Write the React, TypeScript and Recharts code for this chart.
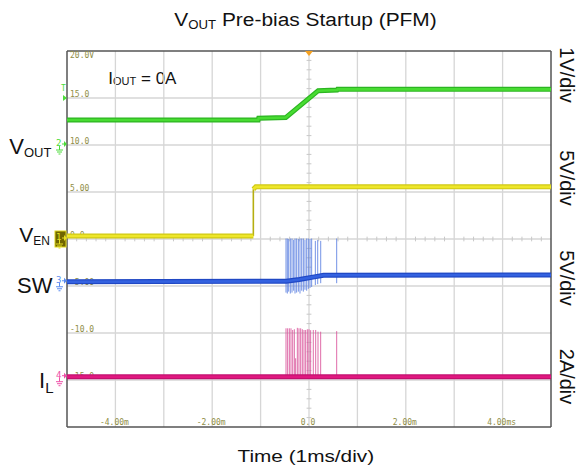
import React from 'react';
import { LineChart, Line, XAxis, YAxis, ReferenceLine, ReferenceDot, Customized } from 'recharts';

// ---------- data (scope units: time in ms, level in screen volts at 5V/div) ----------
const voutTime = [-5, -1.05, -1.04, -0.48, 0.19, 0.58, 0.59, 5];
const voutLevel = [12.66, 12.66, 12.84, 12.92, 15.78, 15.85, 15.92, 15.92];

const venLowTime = [-5, -1.15];
const venLowLevel = [0.32, 0.32];
const venHighTime = [-1.15, -1.1, 5];
const venHighLevel = [5.3, 5.55, 5.55];

const swTime = [-5, -0.47, -0.2, 0.14, 0.3, 5];
const swLevel = [-4.55, -4.5, -4.3, -4.0, -3.85, -3.83];

const swSpikeTime = [-0.475, -0.448, -0.42, -0.386, -0.351, -0.317, -0.289, -0.255, -0.22, -0.186, -0.151, -0.117, -0.083, -0.048, -0.014, 0.021, 0.055, 0.131, 0.18, 0.242, 0.572];
const swSpikeHigh = [0.05, 0.05, 0.0, 0.05, 0.05, -0.1, 0.05, 0.05, 0.0, 0.05, 0.05, 0.05, -0.1, 0.05, 0.05, 0.0, 0.05, -0.2, -0.1, -0.2, 0.05];
const swSpikeLow = [-5.7, -5.8, -5.6, -5.8, -5.7, -5.5, -5.8, -5.7, -5.6, -5.8, -5.5, -5.6, -5.4, -5.5, -5.3, -5.2, -5.1, -4.9, -4.8, -4.7, -4.7];

const ilTime = [-5, 5];
const ilLevel = [-14.65, -14.65];
const ilSpikeTime = [-0.475, -0.441, -0.406, -0.372, -0.337, -0.303, -0.276, -0.241, -0.207, -0.172, -0.138, -0.103, -0.069, -0.034, 0.0, 0.034, 0.089, 0.138, 0.186, 0.241, 0.572];
const ilSpikeHigh = [-9.5, -9.5, -9.5, -9.5, -9.68, -9.6, -12.69, -9.45, -9.5, -9.5, -9.6, -9.68, -9.68, -9.6, -9.6, -9.7, -9.68, -9.68, -9.86, -9.86, -9.8];

// axis / grid labels
const xGridValues = [-4, -3, -2, -1, 0, 1, 2, 3, 4];
const yGridValues = [15, 10, 5, 0, -5, -10, -15];
const xLabelValues = [-4, -2, 0, 2, 4];
const xLabelTexts = ['-4.00m', '-2.00m', '0.0', '2.00m', '4.00ms'];
const yLabelValues = [15, 10, 5, 0, -5, -10, -15];
const yLabelTexts = ['15.0', '10.0', '5.00', '0.0', '-5.00', '-10.0', '-15.0'];

// ---------- build series ----------
const toPts = (ts: number[], vs: number[]) => ts.map((t, i) => ({ t, v: vs[i] }));
const voutData = toPts(voutTime, voutLevel);
const venData = [...toPts(venLowTime, venLowLevel), { t: venLowTime[1], v: null }, ...toPts(venHighTime, venHighLevel)];
const venEdge = [{ t: venLowTime[1], v: venLowLevel[1] }, { t: venHighTime[0], v: venHighLevel[0] }];
const swData = toPts(swTime, swLevel);
const ilData = toPts(ilTime, ilLevel);
const swSpikeData = swSpikeTime.flatMap((t, i) => [
  { t, v: swSpikeHigh[i] },
  { t, v: swSpikeLow[i] },
  { t, v: null },
]);
const ilSpikeData = ilSpikeTime.flatMap((t, i) => [
  { t, v: ilSpikeHigh[i] },
  { t, v: ilLevel[0] },
  { t, v: null },
]);

// minor ticks on the centre cross
const centreXTicks = Array.from({ length: 49 }, (_, i) => -4.8 + i * 0.2).filter((v) => Math.abs(Math.round(v) - v) > 0.01);
const centreYTicks = Array.from({ length: 39 }, (_, i) => -19 + i).filter((v) => v % 5 !== 0);

const W = 577;
const H = 472;
const SANS = 'Liberation Sans, Arial, sans-serif';
const MONO = 'DejaVu Sans Mono, monospace';
const GRID = '#d6d6d6';
const LABEL = '#8f8d45';

const ChannelMark = (p: any) => {
  const { cx, cy, color, num, boxed } = p;
  return (
    <g>
      {boxed && <rect x={cx - 12} y={cy - 8} width={11} height={16} fill="#6f6500" stroke="#e0d81a" strokeWidth={1} />}
      <text x={cx - 11} y={cy + 1} fontSize={9} fontFamily={MONO} fill={color}>{num}</text>
      <line x1={cx - 5} y1={cy - 1} x2={cx - 2} y2={cy - 1} stroke={color} strokeWidth={1} />
      <polygon points={`${cx - 3},${cy - 4} ${cx},${cy - 1} ${cx - 3},${cy + 2}`} fill={color} />
      <line x1={cx - 7.5} y1={cy + 1} x2={cx - 7.5} y2={cy + 5} stroke={color} strokeWidth={1} />
      <line x1={cx - 11} y1={cy + 5} x2={cx - 4} y2={cy + 5} stroke={color} strokeWidth={1} />
      <line x1={cx - 10} y1={cy + 7} x2={cx - 5} y2={cy + 7} stroke={color} strokeWidth={1} />
      <line x1={cx - 8.5} y1={cy + 9} x2={cx - 6.5} y2={cy + 9} stroke={color} strokeWidth={1} />
    </g>
  );
};

const TriggerLevelMark = (p: any) => {
  const { cx, cy } = p;
  const c = '#4cdc3a';
  return (
    <g>
      <text x={cx - 6} y={cy - 7} fontSize={8} fontFamily={MONO} fill={c}>T</text>
      <polygon points={`${cx - 4},${cy - 3} ${cx},${cy} ${cx - 4},${cy + 3}`} fill={c} />
    </g>
  );
};

const TriggerTimeMark = (p: any) => {
  const { cx, cy } = p;
  return <polygon points={`${cx - 4},${cy} ${cx + 4},${cy} ${cx},${cy + 5}`} fill="#f4a020" />;
};

const yLabel = (text: string) => (props: any) => {
  const vb = props.viewBox || {};
  return (
    <text x={vb.x + 3} y={vb.y - 1.5} fontSize={8} fontFamily={MONO} fill={LABEL}>{text}</text>
  );
};

const xLabel = (text: string) => (props: any) => {
  const vb = props.viewBox || {};
  return (
    <text x={vb.x - 1} y={vb.y + vb.height - 2.5} fontSize={8} fontFamily={MONO} fill={LABEL} textAnchor="middle">{text}</text>
  );
};

const topLabel = (props: any) => {
  const vb = props.viewBox || {};
  return <text x={vb.x + 3} y={vb.y + 7} fontSize={8} fontFamily={MONO} fill={LABEL}>20.0V</text>;
};

const Texts = () => (
  <g fontFamily={SANS} fill="#111">
    <g transform="translate(305.5,25.7) scale(1.1,1)">
      <text textAnchor="middle" fontSize={19}>
        V<tspan fontSize={12} dy={3}>OUT</tspan><tspan fontSize={19} dy={-3}> Pre-bias Startup (PFM)</tspan>
      </text>
    </g>
    <g transform="translate(305.8,462) scale(1.26,1)">
      <text textAnchor="middle" fontSize={16.5}>Time (1ms/div)</text>
    </g>
    <text x={108.3} y={84.3} fontSize={17}>
      I<tspan fontSize={11} dy={1}>OUT</tspan><tspan fontSize={17} dy={-1}> = 0A</tspan>
    </text>
    <text x={9.3} y={154.3} fontSize={22}>
      V<tspan fontSize={13} dy={2.4}>OUT</tspan>
    </text>
    <text x={19.3} y={241.7} fontSize={21}>
      V<tspan fontSize={12} dy={3.3}>EN</tspan>
    </text>
    <text x={17} y={292.7} fontSize={22}>SW</text>
    <text x={39} y={388} fontSize={22}>
      I<tspan fontSize={15} dy={5}>L</tspan>
    </text>
    <text transform="translate(560,75) rotate(90)" textAnchor="middle" fontSize={20}>1V/div</text>
    <text transform="translate(560,178) rotate(90)" textAnchor="middle" fontSize={20}>5V/div</text>
    <text transform="translate(560,278) rotate(90)" textAnchor="middle" fontSize={20}>5V/div</text>
    <text transform="translate(560,376.5) rotate(90)" textAnchor="middle" fontSize={20}>2A/div</text>
  </g>
);

const traceProps = { dataKey: 'v', dot: false, activeDot: false, isAnimationActive: false } as const;

export default function App() {
  return (
    <div style={{ position: 'absolute', left: 0, top: 0, width: W, height: H, overflow: 'hidden' }}>
      <LineChart width={W} height={H} margin={{ top: 51, right: 26, bottom: 45, left: 67 }}>
        <XAxis type="number" dataKey="t" domain={[-5, 5]} allowDataOverflow hide />
        <YAxis type="number" domain={[-20, 20]} allowDataOverflow hide />

        {xGridValues.map((x) => (
          <ReferenceLine key={'gx' + x} x={x} stroke={GRID} strokeWidth={1.3} />
        ))}
        {yGridValues.map((y) => (
          <ReferenceLine key={'gy' + y} y={y} stroke={GRID} strokeWidth={1.3} />
        ))}
        {centreXTicks.map((x) => (
          <ReferenceLine key={'tx' + x.toFixed(2)} segment={[{ x, y: -0.25 }, { x, y: 0.25 }]} stroke="#c8c8c8" strokeWidth={1} />
        ))}
        {centreYTicks.map((y) => (
          <ReferenceLine key={'ty' + y} segment={[{ x: -0.05, y }, { x: 0.05, y }]} stroke="#c8c8c8" strokeWidth={1} />
        ))}
        {yLabelValues.map((y, i) => (
          <ReferenceLine key={'ly' + y} y={y} stroke="none" label={yLabel(yLabelTexts[i])} />
        ))}
        {xLabelValues.map((x, i) => (
          <ReferenceLine key={'lx' + x} x={x} stroke="none" label={xLabel(xLabelTexts[i])} />
        ))}
        <ReferenceLine y={20} stroke="#555" strokeWidth={1.5} label={topLabel} />
        <ReferenceLine y={-20} stroke="#555" strokeWidth={1.5} />
        <ReferenceLine x={-5} stroke="#555" strokeWidth={1.5} />
        <ReferenceLine x={5} stroke="#555" strokeWidth={1.5} />

        <Line {...traceProps} data={swSpikeData} stroke="#5a7fe0" strokeWidth={1} strokeOpacity={0.85} />
        <Line {...traceProps} data={ilSpikeData} stroke="#d9529a" strokeWidth={1} strokeOpacity={0.85} />

        <Line {...traceProps} data={ilData} stroke="#c21070" strokeWidth={5} />
        <Line {...traceProps} data={ilData} stroke="#e0187f" strokeWidth={2.6} />
        <Line {...traceProps} data={swData} stroke="#2048c4" strokeWidth={5} />
        <Line {...traceProps} data={swData} stroke="#3462e0" strokeWidth={2.6} />
        <Line {...traceProps} data={venEdge} stroke="#b5ae10" strokeWidth={1.6} />
        <Line {...traceProps} data={venData} stroke="#cfc814" strokeWidth={5} />
        <Line {...traceProps} data={venData} stroke="#eee62a" strokeWidth={2.6} />
        <Line {...traceProps} data={voutData} stroke="#2cb522" strokeWidth={5} />
        <Line {...traceProps} data={voutData} stroke="#48dc32" strokeWidth={2.6} />

        <ReferenceDot x={-5} y={15} r={0} ifOverflow="visible" shape={(p: any) => <TriggerLevelMark {...p} />} />
        <ReferenceDot x={-5} y={10} r={0} ifOverflow="visible" shape={(p: any) => <ChannelMark {...p} color="#4cdc3a" num="2" />} />
        <ReferenceDot x={-5} y={0} r={0} ifOverflow="visible" shape={(p: any) => <ChannelMark {...p} color="#e8e020" num="1" boxed />} />
        <ReferenceDot x={-5} y={swLevel[0]} r={0} ifOverflow="visible" shape={(p: any) => <ChannelMark {...p} color="#5b8cf0" num="3" />} />
        <ReferenceDot x={-5} y={ilLevel[0]} r={0} ifOverflow="visible" shape={(p: any) => <ChannelMark {...p} color="#ee4fa8" num="4" />} />
        <ReferenceDot x={0} y={20} r={0} ifOverflow="visible" shape={(p: any) => <TriggerTimeMark {...p} />} />

        <Customized component={Texts} />
      </LineChart>
    </div>
  );
}
